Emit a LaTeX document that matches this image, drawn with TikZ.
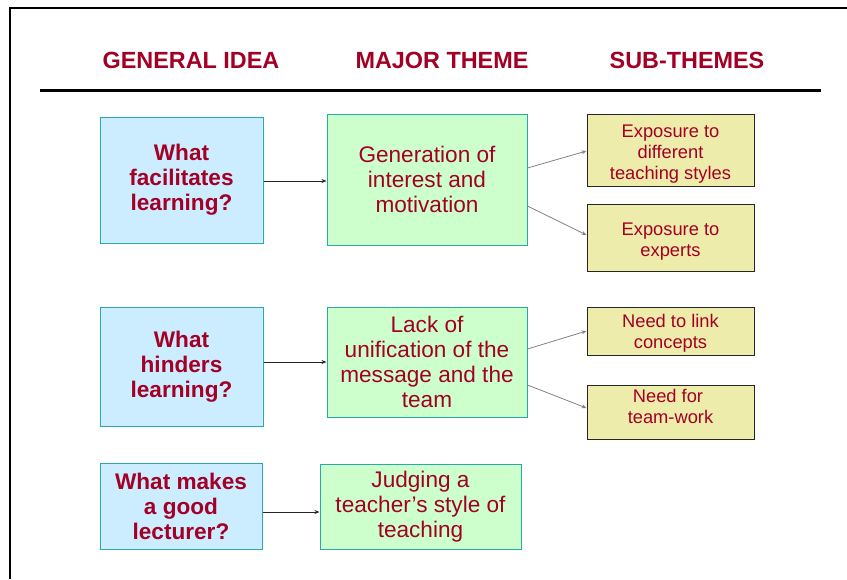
\documentclass[tikz,border=0pt]{standalone}
\usepackage{fontspec}
\setmainfont{Liberation Sans}
\usetikzlibrary{arrows.meta}
\definecolor{tred}{RGB}{163,0,38}
\definecolor{bfill}{RGB}{204,236,255}
\definecolor{gfill}{RGB}{204,255,204}
\definecolor{yfill}{RGB}{238,236,170}
\definecolor{tealb}{RGB}{40,170,170}
\definecolor{agray}{RGB}{130,130,130}
\newcommand{\topstrut}[1]{\rule{0pt}{#1}}
\tikzset{
  boxbase/.style={inner sep=0pt, align=center, text=tred},
  qbox/.style={boxbase, draw=tealb, fill=bfill, line width=1pt,
    font=\fontsize{22.6}{25}\selectfont\bfseries},
  tbox/.style={boxbase, draw=tealb, fill=gfill, line width=1pt,
    font=\fontsize{22.6}{25}\selectfont},
  sbox/.style={boxbase, draw=black!85, fill=yfill, line width=1pt,
    font=\fontsize{18.3}{21}\selectfont},
  head/.style={text=tred, font=\fontsize{23.4}{26}\selectfont\bfseries},
  mainarr/.style={draw=black!85, line width=1pt, -{Stealth[length=5pt,width=4pt]}},
  subarr/.style={draw=agray, line width=0.8pt, -{Stealth[length=5pt,width=4pt]}},
}
\begin{document}
\begin{tikzpicture}[x=1pt,y=-1pt]
\useasboundingbox (0,0) rectangle (847,579);
% frame
\draw[line width=2pt] (10,579) -- (10,8) -- (847,8);
% headings
\node[head] (h1) at (191,60) {GENERAL IDEA};
\node[head] (h2) at (442,60) {MAJOR THEME};
\node[head] (h3) at (687,60) {SUB-THEMES};
\draw[line width=3pt] (40,90.5) -- (821,90.5);
% general idea boxes
\node[qbox, minimum width=163pt, minimum height=126pt] (b1) at (181.5,180) {What\\facilitates\\learning?};
\node[qbox, minimum width=163pt, minimum height=119pt] (b2) at (181.5,366.5) {What\\hinders\\learning?};
\node[qbox, minimum width=162pt, minimum height=86pt] (b3) at (181,506) {What makes\\a good\\lecturer?};
% major theme boxes
\node[tbox, minimum width=200pt, minimum height=131pt] (g1) at (427,179.5) {Generation of\\interest and\\motivation};
\node[tbox, minimum width=200pt, minimum height=110pt] (g2) at (427,362) {Lack of\\unification of the\\message and the\\team};
\node[tbox, minimum width=201pt, minimum height=85pt] (g3) at (420.5,506.5) {Judging a\\teacher’s style of\\teaching};
% sub-theme boxes
\node[sbox, minimum width=167pt, minimum height=72pt] (y1) at (670.5,150) {\topstrut{20pt}Exposure to\\different\\teaching styles};
\node[sbox, minimum width=167pt, minimum height=67pt] (y2) at (670.5,237.5) {\topstrut{20pt}Exposure to\\experts};
\node[sbox, minimum width=167pt, minimum height=48pt] (y3) at (670.5,331) {\topstrut{17pt}Need to link\\concepts};
\node[sbox, minimum width=167pt, minimum height=54pt] (y4) at (670.5,412) {Need for\hspace*{5pt}\\team-work\rule[-11pt]{0pt}{11pt}};
% main arrows
\draw[mainarr] ([yshift=-1pt]b1.east) -- ([yshift=-1pt]b1.east -| g1.west);
\draw[mainarr] (b2.east |- g2.west) -- (g2.west);
\draw[mainarr] ([yshift=-6pt]b3.east) -- ([yshift=-6pt]b3.east -| g3.west);
% sub arrows
\draw[subarr] ([yshift=11.5pt]g1.east) -- ([yshift=-1pt]y1.west);
\draw[subarr] ([yshift=-26.5pt]g1.east) -- ([yshift=2.5pt]y2.west);
\draw[subarr] ([yshift=13pt]g2.east) -- (y3.west);
\draw[subarr] ([yshift=-23pt]g2.east) -- ([yshift=4pt]y4.west);
\end{tikzpicture}
\end{document}
